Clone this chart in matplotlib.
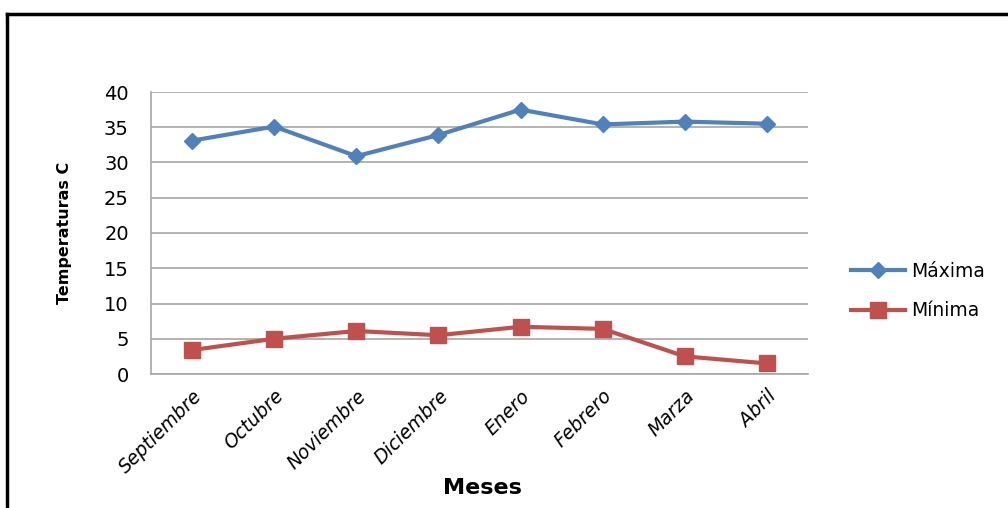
import matplotlib
matplotlib.use('Agg')
import matplotlib.pyplot as plt
from matplotlib.lines import Line2D

# --- Data ---
meses = ['Septiembre', 'Octubre', 'Noviembre', 'Diciembre',
         'Enero', 'Febrero', 'Marza', 'Abril']
maxima = [33.1, 35.1, 30.9, 33.9, 37.5, 35.4, 35.8, 35.5]
minima = [3.4, 5.0, 6.1, 5.5, 6.7, 6.4, 2.5, 1.5]
y_ticks = [0, 5, 10, 15, 20, 25, 30, 35, 40]

COLOR_MAX = '#4F81BD'
COLOR_MIN = '#C0504D'
COLOR_GRID = '#A6A6A6'

plt.rcParams['font.family'] = ['DejaVu Sans']

fig = plt.figure(figsize=(10.08, 5.08), dpi=100)
fig.patch.set_facecolor('white')
ax = fig.add_axes([151 / 1008, 1 - 374 / 508, 657 / 1008, 282 / 508])

x = list(range(len(meses)))
ax.plot(x, maxima, color=COLOR_MAX, linewidth=3, marker='D',
        markersize=8.5, label='Máxima', zorder=3)
ax.plot(x, minima, color=COLOR_MIN, linewidth=3, marker='s',
        markersize=12, label='Mínima', zorder=3)

ax.set_xlim(-0.5, len(meses) - 0.5)
ax.set_ylim(0, 40)
ax.set_yticks(y_ticks)
ax.yaxis.grid(True, color=COLOR_GRID, linewidth=1.2)
ax.set_axisbelow(True)

ax.set_xticks(x)
ax.set_xticklabels(meses, rotation=45, ha='right', va='top',
                   rotation_mode='anchor', fontstyle='italic', fontsize=13.5)
ax.tick_params(axis='x', length=0, pad=9)
ax.tick_params(axis='y', length=0, pad=16, labelsize=14)

for side in ['top', 'right']:
    ax.spines[side].set_visible(False)
ax.spines['left'].set_color(COLOR_GRID)
ax.spines['bottom'].set_color(COLOR_GRID)
ax.spines['left'].set_linewidth(1.2)
ax.spines['bottom'].set_linewidth(1.2)

fig.text(482 / 1008, 1 - 488 / 508, 'Meses', ha='center', va='center',
         fontsize=16, fontweight='bold')
fig.text(65 / 1008, 1 - 233 / 508, 'Temperaturas C', ha='center', va='center',
         rotation=90, fontsize=11.5, fontweight='bold')

ax.legend(loc='center left', bbox_to_anchor=(834 / 1008, 1 - 291 / 508),
          bbox_transform=fig.transFigure, frameon=False, fontsize=13.5,
          handlelength=2.9, labelspacing=1.1, handletextpad=0.3)

# --- Outer frame ---
fig.add_artist(Line2D([7 / 1008, 7 / 1008], [0, 1 - 14 / 508],
                      transform=fig.transFigure, color='black', linewidth=2.5))
fig.add_artist(Line2D([7 / 1008, 1], [1 - 14 / 508, 1 - 14 / 508],
                      transform=fig.transFigure, color='black', linewidth=2.5))

fig.savefig('out.png', dpi=100, facecolor='white')
plt.close(fig)
